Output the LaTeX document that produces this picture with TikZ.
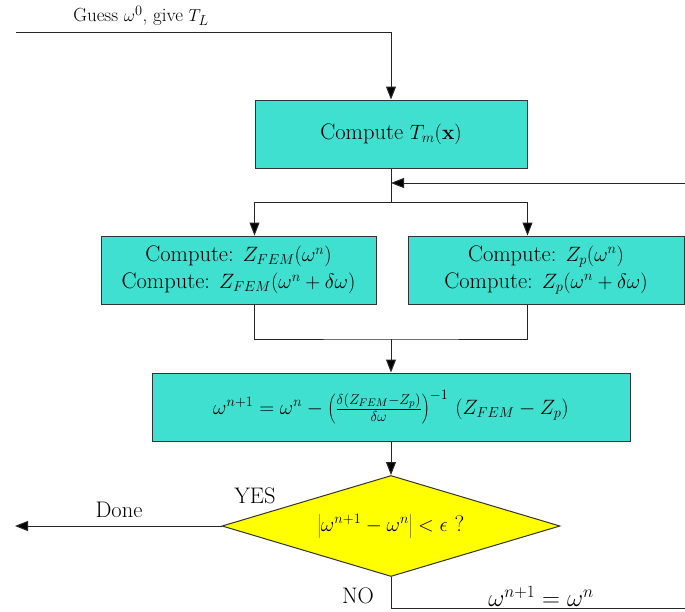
\documentclass[tikz,border=0pt]{standalone}
\usetikzlibrary{arrows.meta,shapes.geometric}
\definecolor{turq}{RGB}{64,224,208}
\definecolor{yel}{RGB}{255,255,0}
\begin{document}
\begin{tikzpicture}[x=1pt,y=-1pt,
  font=\fontsize{22.5}{27}\selectfont,
  box/.style={draw=black!80, line width=1pt, fill=turq, align=center, minimum height=68pt, inner sep=0pt},
  dec/.style={draw=black!80, line width=1pt, fill=yel, diamond, aspect=3.35, minimum width=338pt, minimum height=101pt, inner sep=0pt},
  conn/.style={draw=black!85, line width=1pt},
  arr/.style={conn, -{Triangle[length=13pt,width=10pt,fill=black]}},
  lbl/.style={inner sep=0pt}]
\useasboundingbox (0,0) rectangle (685,611);

\node[box, minimum width=272pt] (tm) at (391,134) {Compute $T_m(\mathbf{x})$};
\node[box, minimum width=275pt] (zf) at (238.5,270) {Compute: $Z_{FEM}(\omega^n)$\\[0pt]Compute: $Z_{FEM}(\omega^n+\delta\omega)$};
\node[box, minimum width=276pt] (zp) at (546,270) {Compute: $Z_{p}(\omega^n)$\\[0pt]Compute: $Z_{p}(\omega^n+\delta\omega)$};
\node[box, minimum width=478pt] (upd) at (391,407) {$\omega^{n+1}=\omega^n-\left(\frac{\delta(Z_{FEM}-Z_p)}{\delta\omega}\right)^{-1}\,(Z_{FEM}-Z_p)$};
\node[dec] (dc) at (391,526) {$\left|\omega^{n+1}-\omega^n\right|<\epsilon$ ?};

\coordinate (start) at (16,32);
\coordinate (fbR) at (685,183);
\coordinate (fb) at (391,183);
\coordinate (split) at (391,202);
\coordinate (join) at (391,339);
\coordinate (done) at (15,526);
\coordinate (noR) at (685,608);

\draw[arr] (start) -| (tm.north);
\node[lbl, font=\fontsize{19}{23}\selectfont] (guess) at (141,16) {Guess $\omega^0$, give $T_L$};

\draw[arr] (fbR) -- (fb);
\draw[conn] (tm.south) -- (split);
\draw[arr] (split) -| (tm.south west |- zf.north);
\draw[arr] (split) -| (tm.south east |- zp.north);

\draw[conn] (tm.south west |- zf.south) |- (join) -| (tm.south east |- zp.south);
\draw[arr] (join) -- (upd.north);
\draw[arr] (upd.south) -- (dc.north);

\draw[arr] (dc.west) -- (done);
\node[lbl] (donel) at (119,510) {Done};
\node[lbl] (yes) at (255,496) {YES};

\draw[conn] (dc.south) |- (noR);
\node[lbl] (no) at (358,596) {NO};
\node[lbl, font=\fontsize{25}{30}\selectfont] (upd2) at (541,596) {$\omega^{n+1}=\omega^n$};
\end{tikzpicture}
\end{document}
